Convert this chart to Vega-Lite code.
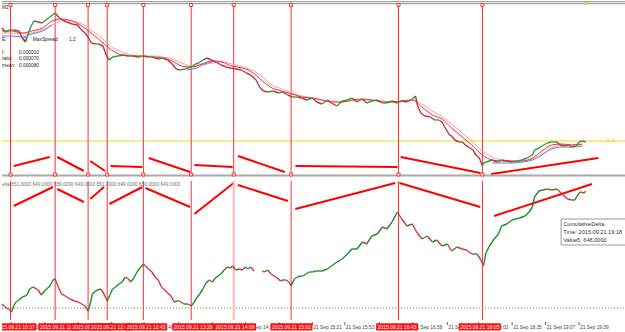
{
"$schema":"https://vega.github.io/schema/vega-lite/v6.json",
"padding":0,"spacing":0,"background":"white",
"config":{"view":{"stroke":null},"text":{"font":"Liberation Sans"}},
"resolve":{"scale":{"x":"independent","y":"independent"}},
"datasets":{
"price":[{"t":"2015-09-21T10:29","c":1.1352},{"t":"2015-09-21T10:32","c":1.1348},{"t":"2015-09-21T10:36","c":1.1350},{"t":"2015-09-21T10:40","c":1.1350},{"t":"2015-09-21T10:45","c":1.1349},{"t":"2015-09-21T10:48","c":1.1342},{"t":"2015-09-21T10:51","c":1.1338},{"t":"2015-09-21T10:53","c":1.1344},{"t":"2015-09-21T10:56","c":1.1353},{"t":"2015-09-21T10:59","c":1.1359},{"t":"2015-09-21T11:03","c":1.1358},{"t":"2015-09-21T11:07","c":1.1357},{"t":"2015-09-21T11:10","c":1.1360},{"t":"2015-09-21T11:14","c":1.1363},{"t":"2015-09-21T11:19","c":1.1367},{"t":"2015-09-21T11:23","c":1.1362},{"t":"2015-09-21T11:26","c":1.1360},{"t":"2015-09-21T11:30","c":1.1358},{"t":"2015-09-21T11:35","c":1.1356},{"t":"2015-09-21T11:40","c":1.1355},{"t":"2015-09-21T11:43","c":1.1351},{"t":"2015-09-21T11:47","c":1.1347},{"t":"2015-09-21T11:50","c":1.1343},{"t":"2015-09-21T11:53","c":1.1337},{"t":"2015-09-21T11:57","c":1.1336},{"t":"2015-09-21T12:00","c":1.1336},{"t":"2015-09-21T12:04","c":1.1334},{"t":"2015-09-21T12:07","c":1.1325},{"t":"2015-09-21T12:10","c":1.1320},{"t":"2015-09-21T12:13","c":1.1323},{"t":"2015-09-21T12:18","c":1.1324},{"t":"2015-09-21T12:23","c":1.1325},{"t":"2015-09-21T12:28","c":1.1324},{"t":"2015-09-21T12:32","c":1.1324},{"t":"2015-09-21T12:37","c":1.1323},{"t":"2015-09-21T12:42","c":1.1324},{"t":"2015-09-21T12:46","c":1.1323},{"t":"2015-09-21T12:51","c":1.1323},{"t":"2015-09-21T12:56","c":1.1321},{"t":"2015-09-21T13:00","c":1.1322},{"t":"2015-09-21T13:05","c":1.1320},{"t":"2015-09-21T13:09","c":1.1316},{"t":"2015-09-21T13:13","c":1.1311},{"t":"2015-09-21T13:16","c":1.1310},{"t":"2015-09-21T13:21","c":1.1311},{"t":"2015-09-21T13:27","c":1.1313},{"t":"2015-09-21T13:31","c":1.1316},{"t":"2015-09-21T13:34","c":1.1317},{"t":"2015-09-21T13:38","c":1.1320},{"t":"2015-09-21T13:42","c":1.1322},{"t":"2015-09-21T13:46","c":1.1320},{"t":"2015-09-21T13:50","c":1.1318},{"t":"2015-09-21T13:55","c":1.1315},{"t":"2015-09-21T14:00","c":1.1313},{"t":"2015-09-21T14:04","c":1.1312},{"t":"2015-09-21T14:09","c":1.1311},{"t":"2015-09-21T14:14","c":1.1310},{"t":"2015-09-21T14:19","c":1.1307},{"t":"2015-09-21T14:23","c":1.1305},{"t":"2015-09-21T14:28","c":1.1300},{"t":"2015-09-21T14:32","c":1.1292},{"t":"2015-09-21T14:35","c":1.1289},{"t":"2015-09-21T14:39","c":1.1288},{"t":"2015-09-21T14:44","c":1.1289},{"t":"2015-09-21T14:49","c":1.1287},{"t":"2015-09-21T14:53","c":1.1288},{"t":"2015-09-21T14:58","c":1.1285},{"t":"2015-09-21T15:02","c":1.1283},{"t":"2015-09-21T15:07","c":1.1283},{"t":"2015-09-21T15:11","c":1.1282},{"t":"2015-09-21T15:16","c":1.1280},{"t":"2015-09-21T15:21","c":1.1282},{"t":"2015-09-21T15:25","c":1.1278},{"t":"2015-09-21T15:30","c":1.1276},{"t":"2015-09-21T15:35","c":1.1280},{"t":"2015-09-21T15:39","c":1.1277},{"t":"2015-09-21T15:44","c":1.1274},{"t":"2015-09-21T15:49","c":1.1279},{"t":"2015-09-21T15:54","c":1.1280},{"t":"2015-09-21T15:58","c":1.1282},{"t":"2015-09-21T16:03","c":1.1278},{"t":"2015-09-21T16:08","c":1.1281},{"t":"2015-09-21T16:12","c":1.1277},{"t":"2015-09-21T16:17","c":1.1279},{"t":"2015-09-21T16:22","c":1.1280},{"t":"2015-09-21T16:27","c":1.1277},{"t":"2015-09-21T16:31","c":1.1277},{"t":"2015-09-21T16:36","c":1.1279},{"t":"2015-09-21T16:41","c":1.1277},{"t":"2015-09-21T16:45","c":1.1279},{"t":"2015-09-21T16:50","c":1.1278},{"t":"2015-09-21T16:55","c":1.1281},{"t":"2015-09-21T16:58","c":1.1284},{"t":"2015-09-21T17:00","c":1.1274},{"t":"2015-09-21T17:03","c":1.1267},{"t":"2015-09-21T17:07","c":1.1264},{"t":"2015-09-21T17:12","c":1.1263},{"t":"2015-09-21T17:16","c":1.1260},{"t":"2015-09-21T17:20","c":1.1260},{"t":"2015-09-21T17:23","c":1.1258},{"t":"2015-09-21T17:26","c":1.1252},{"t":"2015-09-21T17:30","c":1.1245},{"t":"2015-09-21T17:32","c":1.1244},{"t":"2015-09-21T17:35","c":1.1240},{"t":"2015-09-21T17:39","c":1.1238},{"t":"2015-09-21T17:42","c":1.1238},{"t":"2015-09-21T17:46","c":1.1234},{"t":"2015-09-21T17:48","c":1.1233},{"t":"2015-09-21T17:52","c":1.1230},{"t":"2015-09-21T17:55","c":1.1225},{"t":"2015-09-21T17:58","c":1.1222},{"t":"2015-09-21T18:01","c":1.1214},{"t":"2015-09-21T18:02","c":1.1217},{"t":"2015-09-21T18:05","c":1.1218},{"t":"2015-09-21T18:10","c":1.1220},{"t":"2015-09-21T18:15","c":1.1218},{"t":"2015-09-21T18:19","c":1.1220},{"t":"2015-09-21T18:24","c":1.1219},{"t":"2015-09-21T18:29","c":1.1218},{"t":"2015-09-21T18:34","c":1.1219},{"t":"2015-09-21T18:38","c":1.1220},{"t":"2015-09-21T18:43","c":1.1222},{"t":"2015-09-21T18:48","c":1.1225},{"t":"2015-09-21T18:50","c":1.1230},{"t":"2015-09-21T18:54","c":1.1232},{"t":"2015-09-21T18:57","c":1.1234},{"t":"2015-09-21T19:02","c":1.1237},{"t":"2015-09-21T19:06","c":1.1238},{"t":"2015-09-21T19:11","c":1.1238},{"t":"2015-09-21T19:14","c":1.1235},{"t":"2015-09-21T19:18","c":1.1234},{"t":"2015-09-21T19:22","c":1.1235},{"t":"2015-09-21T19:25","c":1.1233},{"t":"2015-09-21T19:29","c":1.1234},{"t":"2015-09-21T19:32","c":1.1238},{"t":"2015-09-21T19:35","c":1.1239},{"t":"2015-09-21T19:38","c":1.1238}],
"ma":[{"t":"2015-09-21T10:29","a":1.1349,"b":1.1347},{"t":"2015-09-21T10:38","a":1.1349,"b":1.1347},{"t":"2015-09-21T10:48","a":1.1347,"b":1.1346},{"t":"2015-09-21T10:57","a":1.1349,"b":1.1347},{"t":"2015-09-21T11:07","a":1.1352,"b":1.1350},{"t":"2015-09-21T11:16","a":1.1359,"b":1.1355},{"t":"2015-09-21T11:25","a":1.1361,"b":1.1359},{"t":"2015-09-21T11:35","a":1.1359,"b":1.1359},{"t":"2015-09-21T11:44","a":1.1354,"b":1.1356},{"t":"2015-09-21T11:54","a":1.1346,"b":1.1349},{"t":"2015-09-21T12:03","a":1.1338,"b":1.1342},{"t":"2015-09-21T12:12","a":1.1330,"b":1.1333},{"t":"2015-09-21T12:22","a":1.1325,"b":1.1328},{"t":"2015-09-21T12:31","a":1.1324,"b":1.1325},{"t":"2015-09-21T12:41","a":1.1324,"b":1.1324},{"t":"2015-09-21T12:50","a":1.1323,"b":1.1324},{"t":"2015-09-21T13:00","a":1.1322,"b":1.1323},{"t":"2015-09-21T13:09","a":1.1319,"b":1.1321},{"t":"2015-09-21T13:18","a":1.1314,"b":1.1317},{"t":"2015-09-21T13:28","a":1.1313,"b":1.1314},{"t":"2015-09-21T13:37","a":1.1316,"b":1.1315},{"t":"2015-09-21T13:47","a":1.1319,"b":1.1317},{"t":"2015-09-21T13:56","a":1.1318,"b":1.1318},{"t":"2015-09-21T14:05","a":1.1314,"b":1.1316},{"t":"2015-09-21T14:15","a":1.1312,"b":1.1313},{"t":"2015-09-21T14:24","a":1.1308,"b":1.1310},{"t":"2015-09-21T14:34","a":1.1299,"b":1.1303},{"t":"2015-09-21T14:43","a":1.1292,"b":1.1295},{"t":"2015-09-21T14:52","a":1.1289,"b":1.1291},{"t":"2015-09-21T15:02","a":1.1286,"b":1.1287},{"t":"2015-09-21T15:11","a":1.1283,"b":1.1284},{"t":"2015-09-21T15:21","a":1.1282,"b":1.1282},{"t":"2015-09-21T15:30","a":1.1280,"b":1.1280},{"t":"2015-09-21T15:39","a":1.1278,"b":1.1279},{"t":"2015-09-21T15:49","a":1.1278,"b":1.1278},{"t":"2015-09-21T15:58","a":1.1280,"b":1.1279},{"t":"2015-09-21T16:08","a":1.1281,"b":1.1280},{"t":"2015-09-21T16:17","a":1.1280,"b":1.1280},{"t":"2015-09-21T16:27","a":1.1278,"b":1.1279},{"t":"2015-09-21T16:36","a":1.1278,"b":1.1278},{"t":"2015-09-21T16:45","a":1.1279,"b":1.1279},{"t":"2015-09-21T16:55","a":1.1280,"b":1.1280},{"t":"2015-09-21T17:04","a":1.1273,"b":1.1276},{"t":"2015-09-21T17:14","a":1.1265,"b":1.1269},{"t":"2015-09-21T17:23","a":1.1261,"b":1.1263},{"t":"2015-09-21T17:32","a":1.1252,"b":1.1256},{"t":"2015-09-21T17:42","a":1.1243,"b":1.1247},{"t":"2015-09-21T17:51","a":1.1235,"b":1.1239},{"t":"2015-09-21T18:01","a":1.1225,"b":1.1229},{"t":"2015-09-21T18:10","a":1.1220,"b":1.1223},{"t":"2015-09-21T18:19","a":1.1219,"b":1.1220},{"t":"2015-09-21T18:29","a":1.1219,"b":1.1219},{"t":"2015-09-21T18:38","a":1.1219,"b":1.1219},{"t":"2015-09-21T18:48","a":1.1222,"b":1.1221},{"t":"2015-09-21T18:57","a":1.1229,"b":1.1226},{"t":"2015-09-21T19:06","a":1.1235,"b":1.1232},{"t":"2015-09-21T19:16","a":1.1236,"b":1.1235},{"t":"2015-09-21T19:25","a":1.1235,"b":1.1235},{"t":"2015-09-21T19:35","a":1.1236,"b":1.1235}],
"blue":[{"t":"2015-09-21T10:29","p":1.1344,"seg":1},{"t":"2015-09-21T10:38","p":1.1344,"seg":1},{"t":"2015-09-21T10:48","p":1.1343,"seg":1},{"t":"2015-09-21T10:57","p":1.1346,"seg":1},{"t":"2015-09-21T11:07","p":1.1349,"seg":1},{"t":"2015-09-21T11:16","p":1.1355,"seg":1},{"t":"2015-09-21T13:23","p":1.1310,"seg":2},{"t":"2015-09-21T13:32","p":1.1312,"seg":2},{"t":"2015-09-21T13:42","p":1.1317,"seg":2},{"t":"2015-09-21T13:47","p":1.1318,"seg":2},{"t":"2015-09-21T18:10","p":1.1217,"seg":3},{"t":"2015-09-21T18:19","p":1.1217,"seg":3},{"t":"2015-09-21T18:29","p":1.1217,"seg":3},{"t":"2015-09-21T18:38","p":1.1218,"seg":3},{"t":"2015-09-21T18:48","p":1.1220,"seg":3},{"t":"2015-09-21T18:57","p":1.1225,"seg":3},{"t":"2015-09-21T19:06","p":1.1231,"seg":3},{"t":"2015-09-21T19:16","p":1.1233,"seg":3},{"t":"2015-09-21T19:25","p":1.1233,"seg":3},{"t":"2015-09-21T19:35","p":1.1234,"seg":3}],
"delta":[{"t":"2015-09-21T10:29","v":541},{"t":"2015-09-21T10:32","v":538},{"t":"2015-09-21T10:36","v":535},{"t":"2015-09-21T10:38","v":533},{"t":"2015-09-21T10:40","v":539},{"t":"2015-09-21T10:42","v":543},{"t":"2015-09-21T10:45","v":545},{"t":"2015-09-21T10:48","v":548},{"t":"2015-09-21T10:51","v":549},{"t":"2015-09-21T10:53","v":551},{"t":"2015-09-21T10:55","v":556},{"t":"2015-09-21T10:58","v":558},{"t":"2015-09-21T11:00","v":557},{"t":"2015-09-21T11:03","v":555},{"t":"2015-09-21T11:06","v":550},{"t":"2015-09-21T11:09","v":554},{"t":"2015-09-21T11:11","v":556},{"t":"2015-09-21T11:14","v":559},{"t":"2015-09-21T11:17","v":565},{"t":"2015-09-21T11:19","v":566},{"t":"2015-09-21T11:22","v":558},{"t":"2015-09-21T11:25","v":551},{"t":"2015-09-21T11:27","v":550},{"t":"2015-09-21T11:30","v":548},{"t":"2015-09-21T11:33","v":546},{"t":"2015-09-21T11:37","v":544},{"t":"2015-09-21T11:41","v":543},{"t":"2015-09-21T11:44","v":541},{"t":"2015-09-21T11:47","v":539},{"t":"2015-09-21T11:50","v":534},{"t":"2015-09-21T11:52","v":541},{"t":"2015-09-21T11:54","v":551},{"t":"2015-09-21T11:57","v":554},{"t":"2015-09-21T11:59","v":555},{"t":"2015-09-21T12:02","v":556},{"t":"2015-09-21T12:05","v":551},{"t":"2015-09-21T12:08","v":544},{"t":"2015-09-21T12:11","v":551},{"t":"2015-09-21T12:13","v":556},{"t":"2015-09-21T12:16","v":558},{"t":"2015-09-21T12:19","v":561},{"t":"2015-09-21T12:22","v":563},{"t":"2015-09-21T12:25","v":568},{"t":"2015-09-21T12:28","v":566},{"t":"2015-09-21T12:30","v":563},{"t":"2015-09-21T12:33","v":567},{"t":"2015-09-21T12:36","v":573},{"t":"2015-09-21T12:39","v":577},{"t":"2015-09-21T12:42","v":581},{"t":"2015-09-21T12:44","v":579},{"t":"2015-09-21T12:47","v":576},{"t":"2015-09-21T12:50","v":573},{"t":"2015-09-21T12:53","v":568},{"t":"2015-09-21T12:56","v":565},{"t":"2015-09-21T12:59","v":558},{"t":"2015-09-21T13:01","v":556},{"t":"2015-09-21T13:04","v":553},{"t":"2015-09-21T13:08","v":549},{"t":"2015-09-21T13:11","v":543},{"t":"2015-09-21T13:14","v":544},{"t":"2015-09-21T13:16","v":544},{"t":"2015-09-21T13:20","v":541},{"t":"2015-09-21T13:24","v":541},{"t":"2015-09-21T13:27","v":539},{"t":"2015-09-21T13:30","v":543},{"t":"2015-09-21T13:32","v":547},{"t":"2015-09-21T13:35","v":551},{"t":"2015-09-21T13:38","v":556},{"t":"2015-09-21T13:41","v":562},{"t":"2015-09-21T13:44","v":565},{"t":"2015-09-21T13:47","v":563},{"t":"2015-09-21T13:49","v":566},{"t":"2015-09-21T13:52","v":569},{"t":"2015-09-21T13:55","v":571},{"t":"2015-09-21T13:58","v":575},{"t":"2015-09-21T14:01","v":578},{"t":"2015-09-21T14:04","v":577},{"t":"2015-09-21T14:06","v":579},{"t":"2015-09-21T14:09","v":575},{"t":"2015-09-21T14:12","v":576},{"t":"2015-09-21T14:15","v":575},{"t":"2015-09-21T14:18","v":578},{"t":"2015-09-21T14:20","v":576},{"t":"2015-09-21T14:23","v":578},{"t":"2015-09-21T14:26","v":574},{"t":"2015-09-21T14:34","v":574},{"t":"2015-09-21T14:36","v":573},{"t":"2015-09-21T14:39","v":575},{"t":"2015-09-21T14:42","v":571},{"t":"2015-09-21T14:45","v":569},{"t":"2015-09-21T14:48","v":567},{"t":"2015-09-21T14:51","v":564},{"t":"2015-09-21T14:53","v":565},{"t":"2015-09-21T14:56","v":565},{"t":"2015-09-21T14:59","v":563},{"t":"2015-09-21T15:01","v":559},{"t":"2015-09-21T15:04","v":566},{"t":"2015-09-21T15:07","v":568},{"t":"2015-09-21T15:09","v":569},{"t":"2015-09-21T15:12","v":569},{"t":"2015-09-21T15:15","v":571},{"t":"2015-09-21T15:18","v":573},{"t":"2015-09-21T15:21","v":573},{"t":"2015-09-21T15:24","v":574},{"t":"2015-09-21T15:30","v":574},{"t":"2015-09-21T15:35","v":576},{"t":"2015-09-21T15:39","v":579},{"t":"2015-09-21T15:44","v":583},{"t":"2015-09-21T15:49","v":586},{"t":"2015-09-21T15:54","v":591},{"t":"2015-09-21T15:58","v":596},{"t":"2015-09-21T16:03","v":596},{"t":"2015-09-21T16:08","v":603},{"t":"2015-09-21T16:12","v":601},{"t":"2015-09-21T16:17","v":609},{"t":"2015-09-21T16:22","v":611},{"t":"2015-09-21T16:27","v":618},{"t":"2015-09-21T16:31","v":616},{"t":"2015-09-21T16:36","v":623},{"t":"2015-09-21T16:41","v":633},{"t":"2015-09-21T16:45","v":626},{"t":"2015-09-21T16:50","v":619},{"t":"2015-09-21T16:55","v":621},{"t":"2015-09-21T16:59","v":613},{"t":"2015-09-21T17:04","v":606},{"t":"2015-09-21T17:09","v":609},{"t":"2015-09-21T17:14","v":603},{"t":"2015-09-21T17:18","v":605},{"t":"2015-09-21T17:23","v":599},{"t":"2015-09-21T17:28","v":601},{"t":"2015-09-21T17:32","v":594},{"t":"2015-09-21T17:37","v":598},{"t":"2015-09-21T17:42","v":596},{"t":"2015-09-21T17:46","v":595},{"t":"2015-09-21T17:51","v":591},{"t":"2015-09-21T17:56","v":591},{"t":"2015-09-21T17:59","v":586},{"t":"2015-09-21T18:02","v":579},{"t":"2015-09-21T18:04","v":591},{"t":"2015-09-21T18:07","v":598},{"t":"2015-09-21T18:12","v":606},{"t":"2015-09-21T18:16","v":611},{"t":"2015-09-21T18:19","v":619},{"t":"2015-09-21T18:24","v":621},{"t":"2015-09-21T18:29","v":625},{"t":"2015-09-21T18:32","v":626},{"t":"2015-09-21T18:36","v":627},{"t":"2015-09-21T18:41","v":629},{"t":"2015-09-21T18:45","v":633},{"t":"2015-09-21T18:48","v":638},{"t":"2015-09-21T18:50","v":648},{"t":"2015-09-21T18:54","v":654},{"t":"2015-09-21T18:58","v":655},{"t":"2015-09-21T19:02","v":656},{"t":"2015-09-21T19:06","v":655},{"t":"2015-09-21T19:11","v":656},{"t":"2015-09-21T19:13","v":654},{"t":"2015-09-21T19:16","v":651},{"t":"2015-09-21T19:19","v":648},{"t":"2015-09-21T19:21","v":646},{"t":"2015-09-21T19:25","v":645},{"t":"2015-09-21T19:28","v":645},{"t":"2015-09-21T19:30","v":649},{"t":"2015-09-21T19:33","v":653},{"t":"2015-09-21T19:37","v":652},{"t":"2015-09-21T19:38","v":654}],
"vlines":[{"t":"2015-09-21T10:37","tag":"2015.09.21 10:37"},{"t":"2015-09-21T11:19","tag":"2015.09.21 11:19"},{"t":"2015-09-21T11:50","tag":"2015.09.21 11:50"},{"t":"2015-09-21T12:08","tag":"2015.09.21 12:08"},{"t":"2015-09-21T12:42","tag":"2015.09.21 12:43"},{"t":"2015-09-21T13:27","tag":"2015.09.21 13:28"},{"t":"2015-09-21T14:07","tag":"2015.09.21 14:09","sel":true},{"t":"2015-09-21T15:01","tag":"2015.09.21 15:02"},{"t":"2015-09-21T16:42","tag":"2015.09.21 16:43"},{"t":"2015-09-21T18:01","tag":"2015.09.21 18:05"}],
"divA":[{"t1":"2015-09-21T10:40","p1":1.1214,"t2":"2015-09-21T11:14","p2":1.1223},{"t1":"2015-09-21T11:21","p1":1.1223,"t2":"2015-09-21T11:46","p2":1.1209},{"t1":"2015-09-21T11:52","p1":1.1219,"t2":"2015-09-21T12:06","p2":1.1209},{"t1":"2015-09-21T12:11","p1":1.1214,"t2":"2015-09-21T12:41","p2":1.1213},{"t1":"2015-09-21T12:47","p1":1.1222,"t2":"2015-09-21T13:26","p2":1.1208},{"t1":"2015-09-21T13:30","p1":1.1215,"t2":"2015-09-21T14:06","p2":1.1213},{"t1":"2015-09-21T14:11","p1":1.1224,"t2":"2015-09-21T14:55","p2":1.1208},{"t1":"2015-09-21T15:05","p1":1.1214,"t2":"2015-09-21T16:41","p2":1.1213},{"t1":"2015-09-21T16:44","p1":1.1223,"t2":"2015-09-21T17:59","p2":1.1207},{"t1":"2015-09-21T18:09","p1":1.1206,"t2":"2015-09-21T19:50","p2":1.1222}],
"divB":[{"t1":"2015-09-21T10:40","v1":639,"t2":"2015-09-21T11:17","v2":658},{"t1":"2015-09-21T11:21","v1":656,"t2":"2015-09-21T11:46","v2":643},{"t1":"2015-09-21T11:52","v1":646,"t2":"2015-09-21T12:05","v2":658},{"t1":"2015-09-21T12:10","v1":641,"t2":"2015-09-21T12:41","v2":658},{"t1":"2015-09-21T12:44","v1":657,"t2":"2015-09-21T13:26","v2":638},{"t1":"2015-09-21T13:30","v1":631,"t2":"2015-09-21T14:07","v2":662},{"t1":"2015-09-21T14:11","v1":660,"t2":"2015-09-21T14:58","v2":644},{"t1":"2015-09-21T15:05","v1":636,"t2":"2015-09-21T16:39","v2":662},{"t1":"2015-09-21T16:43","v1":662,"t2":"2015-09-21T17:59","v2":638},{"t1":"2015-09-21T18:12","v1":629,"t2":"2015-09-21T19:44","v2":661}],
"infoA":[{"t":"2015-09-21T10:29","p":1.1372,"text":"M1"},{"t":"2015-09-21T10:29","p":1.1340,"text":"E:"},{"t":"2015-09-21T10:49","p":1.1340,"text":"0;"},{"t":"2015-09-21T10:58","p":1.1340,"text":"MaxSpread:"},{"t":"2015-09-21T11:32","p":1.1340,"text":"1.2"},{"t":"2015-09-21T10:29","p":1.1327,"text":"t:"},{"t":"2015-09-21T10:45","p":1.1327,"text":"0.000010"},{"t":"2015-09-21T10:29","p":1.1321,"text":"ratio:"},{"t":"2015-09-21T10:45","p":1.1321,"text":"0.000070"},{"t":"2015-09-21T10:29","p":1.1314,"text":"mean:"},{"t":"2015-09-21T10:45","p":1.1314,"text":"0.000080"}],
"axticks":[{"t":"2015-09-21T10:33","label":"21 Sep 10:33"},{"t":"2015-09-21T11:05","label":"21 Sep 11:05"},{"t":"2015-09-21T11:37","label":"21 Sep 11:37"},{"t":"2015-09-21T12:09","label":"21 Sep 12:08"},{"t":"2015-09-21T12:40","label":"21 Sep 12:40"},{"t":"2015-09-21T13:13","label":"21 Sep 13:12"},{"t":"2015-09-21T13:45","label":"21 Sep 13:44"},{"t":"2015-09-21T14:17","label":"21 Sep 14:17"},{"t":"2015-09-21T14:49","label":"21 Sep 14:49"},{"t":"2015-09-21T15:21","label":"21 Sep 15:21"},{"t":"2015-09-21T15:52","label":"21 Sep 15:53"},{"t":"2015-09-21T16:25","label":"21 Sep 16:25"},{"t":"2015-09-21T16:57","label":"21 Sep 16:58"},{"t":"2015-09-21T17:30","label":"21 Sep 17:30"},{"t":"2015-09-21T18:00","label":"21 Sep 18:03"},{"t":"2015-09-21T18:32","label":"21 Sep 18:35"},{"t":"2015-09-21T19:04","label":"21 Sep 19:07"},{"t":"2015-09-21T19:36","label":"21 Sep 19:39"}],
"tabs":[{"idx":0,"name":"EURUSD,M15"},{"idx":1,"name":"XAUUSD,M1"},{"idx":2,"name":"EURUSD,M1","active":true},{"idx":3,"name":"EURUSD,M5"}]
},
"vconcat":[
{"width":625,"height":176,
"layer":[
{"data":{"values":[{}]},"mark":{"type":"rule","color":"#8c8c8c","strokeWidth":1},"encoding":{"y":{"datum":1.13783,"type":"quantitative","scale":{"domain":[1.1204,1.138],"nice":false,"zero":false},"axis":null}}},
{"data":{"values":[{}]},"mark":{"type":"rule","color":"#8c8c8c","strokeWidth":1},"encoding":{"y":{"datum":1.13763,"type":"quantitative"}}},
{"data":{"values":[{}]},"mark":{"type":"rule","color":"#f3d523","strokeWidth":1},"encoding":{"y":{"datum":1.1239,"type":"quantitative"}}},
{"data":{"name":"divA"},"mark":{"type":"rule","color":"#ff0000","strokeWidth":2},"encoding":{"x":{"field":"t1","type":"temporal","scale":{"domain":[{"year":2015,"month":9,"date":21,"hours":10,"minutes":29},{"year":2015,"month":9,"date":21,"hours":20,"minutes":17}],"nice":false},"axis":null},"x2":{"field":"t2"},"y":{"field":"p1","type":"quantitative"},"y2":{"field":"p2"}}},
{"data":{"name":"vlines"},"mark":{"type":"rule","color":"#ff3030","strokeWidth":1},"encoding":{"x":{"field":"t","type":"temporal","scale":{"domain":[{"year":2015,"month":9,"date":21,"hours":10,"minutes":29},{"year":2015,"month":9,"date":21,"hours":20,"minutes":17}],"nice":false},"axis":null},"y":{"datum":1.1376,"type":"quantitative"},"y2":{"datum":1.1205}}},
{"data":{"name":"ma"},"mark":{"type":"line","color":"#ff9a9a","strokeWidth":1,"interpolate":"monotone"},"encoding":{"x":{"field":"t","type":"temporal","scale":{"domain":[{"year":2015,"month":9,"date":21,"hours":10,"minutes":29},{"year":2015,"month":9,"date":21,"hours":20,"minutes":17}],"nice":false},"axis":null},"y":{"field":"b","type":"quantitative"}}},
{"data":{"name":"ma"},"mark":{"type":"line","color":"#ff2a2a","strokeWidth":1,"interpolate":"monotone"},"encoding":{"x":{"field":"t","type":"temporal","scale":{"domain":[{"year":2015,"month":9,"date":21,"hours":10,"minutes":29},{"year":2015,"month":9,"date":21,"hours":20,"minutes":17}],"nice":false},"axis":null},"y":{"field":"a","type":"quantitative"}}},
{"data":{"name":"blue"},"mark":{"type":"line","color":"#5b7cf2","strokeWidth":1,"interpolate":"monotone"},"encoding":{"x":{"field":"t","type":"temporal","scale":{"domain":[{"year":2015,"month":9,"date":21,"hours":10,"minutes":29},{"year":2015,"month":9,"date":21,"hours":20,"minutes":17}],"nice":false},"axis":null},"y":{"field":"p","type":"quantitative"},"detail":{"field":"seg"}}},
{"data":{"name":"price"},"transform":[{"window":[{"op":"lag","field":"c","as":"o"},{"op":"lag","field":"t","as":"t0"}],"sort":[{"field":"t"}]},{"filter":"datum.o != null"}],"mark":{"type":"rule","strokeWidth":1.4},"encoding":{"x":{"field":"t0","type":"temporal","scale":{"domain":[{"year":2015,"month":9,"date":21,"hours":10,"minutes":29},{"year":2015,"month":9,"date":21,"hours":20,"minutes":17}],"nice":false},"axis":null},"x2":{"field":"t"},"y":{"field":"o","type":"quantitative"},"y2":{"field":"c"},"color":{"condition":{"test":"datum.c >= datum.o","value":"#2f9e3a"},"value":"#b5394d"}}},
{"data":{"values":[{}]},"mark":{"type":"rule","color":"#a9a9a9","strokeWidth":2},"encoding":{"y":{"datum":1.12045,"type":"quantitative"}}},
{"data":{"name":"vlines"},"mark":{"type":"point","shape":"square","size":9,"fill":"white","stroke":"#ff3030","strokeWidth":1,"opacity":1},"encoding":{"x":{"field":"t","type":"temporal","scale":{"domain":[{"year":2015,"month":9,"date":21,"hours":10,"minutes":29},{"year":2015,"month":9,"date":21,"hours":20,"minutes":17}],"nice":false},"axis":null},"y":{"datum":1.1375,"type":"quantitative"}}},
{"data":{"name":"vlines"},"mark":{"type":"point","shape":"square","size":9,"fill":"white","stroke":"#ff3030","strokeWidth":1,"opacity":1},"encoding":{"x":{"field":"t","type":"temporal","scale":{"domain":[{"year":2015,"month":9,"date":21,"hours":10,"minutes":29},{"year":2015,"month":9,"date":21,"hours":20,"minutes":17}],"nice":false},"axis":null},"y":{"datum":1.12055,"type":"quantitative"}}},
{"data":{"name":"infoA"},"mark":{"type":"text","align":"left","baseline":"middle","fontSize":4.8,"color":"#222222","clip":true},"encoding":{"x":{"field":"t","type":"temporal","scale":{"domain":[{"year":2015,"month":9,"date":21,"hours":10,"minutes":29},{"year":2015,"month":9,"date":21,"hours":20,"minutes":17}],"nice":false},"axis":null},"y":{"field":"p","type":"quantitative"},"text":{"field":"text"}}},
{"data":{"values":[{"t":"2015-09-21T19:51","p":1.1239,"text":"<  0.4"}]},"mark":{"type":"text","align":"left","baseline":"middle","fontSize":7,"color":"#f0dc3c","clip":true},"encoding":{"x":{"field":"t","type":"temporal","scale":{"domain":[{"year":2015,"month":9,"date":21,"hours":10,"minutes":29},{"year":2015,"month":9,"date":21,"hours":20,"minutes":17}],"nice":false},"axis":null},"y":{"field":"p","type":"quantitative"},"text":{"field":"text"}}},
{"data":{"values":[{"t":"2015-09-21T19:38","p":1.1376}]},"mark":{"type":"point","shape":"triangle-down","size":14,"filled":true,"color":"#e6c400","opacity":1},"encoding":{"x":{"field":"t","type":"temporal","scale":{"domain":[{"year":2015,"month":9,"date":21,"hours":10,"minutes":29},{"year":2015,"month":9,"date":21,"hours":20,"minutes":17}],"nice":false},"axis":null},"y":{"field":"p","type":"quantitative"}}}
]},
{"width":625,"height":140,
"layer":[
{"data":{"values":[{}]},"mark":{"type":"rule","color":"#3a9a3a","strokeWidth":1,"strokeDash":[1,2]},"encoding":{"y":{"datum":537,"type":"quantitative","scale":{"domain":[525,665],"nice":false,"zero":false},"axis":null}}},
{"data":{"name":"divB"},"mark":{"type":"rule","color":"#ff0000","strokeWidth":2},"encoding":{"x":{"field":"t1","type":"temporal","scale":{"domain":[{"year":2015,"month":9,"date":21,"hours":10,"minutes":29},{"year":2015,"month":9,"date":21,"hours":20,"minutes":17}],"nice":false},"axis":null},"x2":{"field":"t2"},"y":{"field":"v1","type":"quantitative"},"y2":{"field":"v2"}}},
{"data":{"name":"vlines"},"mark":{"type":"rule"},"encoding":{"x":{"field":"t","type":"temporal","scale":{"domain":[{"year":2015,"month":9,"date":21,"hours":10,"minutes":29},{"year":2015,"month":9,"date":21,"hours":20,"minutes":17}],"nice":false},"axis":null},"y":{"datum":664,"type":"quantitative"},"y2":{"datum":525},"color":{"condition":{"test":"datum.sel","value":"#ffb4b4"},"value":"#ff3030"},"strokeWidth":{"condition":{"test":"datum.sel","value":2},"value":1}}},
{"data":{"name":"delta"},"transform":[{"window":[{"op":"lag","field":"v","as":"o"},{"op":"lag","field":"t","as":"t0"}],"sort":[{"field":"t"}]},{"filter":"datum.o != null && (datum.t - datum.t0) < 420000"}],"mark":{"type":"rule","strokeWidth":1.4},"encoding":{"x":{"field":"t0","type":"temporal","scale":{"domain":[{"year":2015,"month":9,"date":21,"hours":10,"minutes":29},{"year":2015,"month":9,"date":21,"hours":20,"minutes":17}],"nice":false},"axis":null},"x2":{"field":"t"},"y":{"field":"o","type":"quantitative"},"y2":{"field":"v"},"color":{"condition":{"test":"datum.v >= datum.o","value":"#1f8f2a"},"value":"#d8344c"}}},
{"data":{"values":[{"t":"2015-09-21T10:29","v":660,"text":"elta 651.0000 649.0000 656.0000 649.0000 651.0000 649.0000 650.0000 649.0000"}]},"mark":{"type":"text","align":"left","baseline":"middle","fontSize":4.8,"color":"#707070","clip":true},"encoding":{"x":{"field":"t","type":"temporal","scale":{"domain":[{"year":2015,"month":9,"date":21,"hours":10,"minutes":29},{"year":2015,"month":9,"date":21,"hours":20,"minutes":17}],"nice":false},"axis":null},"y":{"field":"v","type":"quantitative"},"text":{"field":"text"}}},
{"data":{"values":[{"t1":"2015-09-21T19:15","t2":"2015-09-21T20:20","v1":626,"v2":600}]},"mark":{"type":"rect","fill":"#ffffff","stroke":"#9a9a9a","strokeWidth":1,"clip":true},"encoding":{"x":{"field":"t1","type":"temporal","scale":{"domain":[{"year":2015,"month":9,"date":21,"hours":10,"minutes":29},{"year":2015,"month":9,"date":21,"hours":20,"minutes":17}],"nice":false},"axis":null},"x2":{"field":"t2"},"y":{"field":"v1","type":"quantitative"},"y2":{"field":"v2"}}},
{"data":{"values":[{"t":"2015-09-21T19:17","v":621,"text":"CumulativeDelta"},{"t":"2015-09-21T19:17","v":613,"text":"Time: 2015.09.21 19:18"},{"t":"2015-09-21T19:17","v":605,"text":"Value5: 648.0000"}]},"mark":{"type":"text","align":"left","baseline":"middle","fontSize":5.6,"color":"#333333","clip":true},"encoding":{"x":{"field":"t","type":"temporal","scale":{"domain":[{"year":2015,"month":9,"date":21,"hours":10,"minutes":29},{"year":2015,"month":9,"date":21,"hours":20,"minutes":17}],"nice":false},"axis":null},"y":{"field":"v","type":"quantitative"},"text":{"field":"text"}}}
]},
{"width":625,"height":10,
"layer":[
{"data":{"name":"axticks"},"mark":{"type":"rule","color":"#666666","strokeWidth":1},"encoding":{"x":{"field":"t","type":"temporal","scale":{"domain":[{"year":2015,"month":9,"date":21,"hours":10,"minutes":29},{"year":2015,"month":9,"date":21,"hours":20,"minutes":17}],"nice":false},"axis":null},"y":{"datum":1,"type":"quantitative","scale":{"domain":[0,1],"nice":false},"axis":null},"y2":{"datum":0.7}}},
{"data":{"name":"axticks"},"mark":{"type":"text","align":"left","baseline":"middle","dx":1,"fontSize":4.8,"color":"#444444","clip":true},"encoding":{"x":{"field":"t","type":"temporal","scale":{"domain":[{"year":2015,"month":9,"date":21,"hours":10,"minutes":29},{"year":2015,"month":9,"date":21,"hours":20,"minutes":17}],"nice":false},"axis":null},"y":{"datum":0.45,"type":"quantitative"},"text":{"field":"label"}}},
{"data":{"name":"vlines"},"transform":[{"filter":"indexof(['10:37','13:27'], timeFormat(datum.t, '%H:%M')) >= 0"}],"mark":{"type":"bar","width":42,"color":"#ff1010","clip":true},"encoding":{"x":{"field":"t","type":"temporal","scale":{"domain":[{"year":2015,"month":9,"date":21,"hours":10,"minutes":29},{"year":2015,"month":9,"date":21,"hours":20,"minutes":17}],"nice":false},"axis":null},"y":{"datum":0.15,"type":"quantitative"},"y2":{"datum":0.88}}},
{"data":{"name":"vlines"},"transform":[{"filter":"indexof(['10:37','13:27'], timeFormat(datum.t, '%H:%M')) >= 0"}],"mark":{"type":"text","align":"center","baseline":"middle","fontSize":5,"color":"#ffffff","clip":true},"encoding":{"x":{"field":"t","type":"temporal","scale":{"domain":[{"year":2015,"month":9,"date":21,"hours":10,"minutes":29},{"year":2015,"month":9,"date":21,"hours":20,"minutes":17}],"nice":false},"axis":null},"y":{"datum":0.5,"type":"quantitative"},"text":{"field":"tag"}}},
{"data":{"name":"vlines"},"transform":[{"filter":"indexof(['11:19','14:07'], timeFormat(datum.t, '%H:%M')) >= 0"}],"mark":{"type":"bar","width":42,"color":"#ff1010","clip":true},"encoding":{"x":{"field":"t","type":"temporal","scale":{"domain":[{"year":2015,"month":9,"date":21,"hours":10,"minutes":29},{"year":2015,"month":9,"date":21,"hours":20,"minutes":17}],"nice":false},"axis":null},"y":{"datum":0.15,"type":"quantitative"},"y2":{"datum":0.88}}},
{"data":{"name":"vlines"},"transform":[{"filter":"indexof(['11:19','14:07'], timeFormat(datum.t, '%H:%M')) >= 0"}],"mark":{"type":"text","align":"center","baseline":"middle","fontSize":5,"color":"#ffffff","clip":true},"encoding":{"x":{"field":"t","type":"temporal","scale":{"domain":[{"year":2015,"month":9,"date":21,"hours":10,"minutes":29},{"year":2015,"month":9,"date":21,"hours":20,"minutes":17}],"nice":false},"axis":null},"y":{"datum":0.5,"type":"quantitative"},"text":{"field":"tag"}}},
{"data":{"name":"vlines"},"transform":[{"filter":"indexof(['11:50','15:01'], timeFormat(datum.t, '%H:%M')) >= 0"}],"mark":{"type":"bar","width":42,"color":"#ff1010","clip":true},"encoding":{"x":{"field":"t","type":"temporal","scale":{"domain":[{"year":2015,"month":9,"date":21,"hours":10,"minutes":29},{"year":2015,"month":9,"date":21,"hours":20,"minutes":17}],"nice":false},"axis":null},"y":{"datum":0.15,"type":"quantitative"},"y2":{"datum":0.88}}},
{"data":{"name":"vlines"},"transform":[{"filter":"indexof(['11:50','15:01'], timeFormat(datum.t, '%H:%M')) >= 0"}],"mark":{"type":"text","align":"center","baseline":"middle","fontSize":5,"color":"#ffffff","clip":true},"encoding":{"x":{"field":"t","type":"temporal","scale":{"domain":[{"year":2015,"month":9,"date":21,"hours":10,"minutes":29},{"year":2015,"month":9,"date":21,"hours":20,"minutes":17}],"nice":false},"axis":null},"y":{"datum":0.5,"type":"quantitative"},"text":{"field":"tag"}}},
{"data":{"name":"vlines"},"transform":[{"filter":"indexof(['12:08','16:42'], timeFormat(datum.t, '%H:%M')) >= 0"}],"mark":{"type":"bar","width":42,"color":"#ff1010","clip":true},"encoding":{"x":{"field":"t","type":"temporal","scale":{"domain":[{"year":2015,"month":9,"date":21,"hours":10,"minutes":29},{"year":2015,"month":9,"date":21,"hours":20,"minutes":17}],"nice":false},"axis":null},"y":{"datum":0.15,"type":"quantitative"},"y2":{"datum":0.88}}},
{"data":{"name":"vlines"},"transform":[{"filter":"indexof(['12:08','16:42'], timeFormat(datum.t, '%H:%M')) >= 0"}],"mark":{"type":"text","align":"center","baseline":"middle","fontSize":5,"color":"#ffffff","clip":true},"encoding":{"x":{"field":"t","type":"temporal","scale":{"domain":[{"year":2015,"month":9,"date":21,"hours":10,"minutes":29},{"year":2015,"month":9,"date":21,"hours":20,"minutes":17}],"nice":false},"axis":null},"y":{"datum":0.5,"type":"quantitative"},"text":{"field":"tag"}}},
{"data":{"name":"vlines"},"transform":[{"filter":"indexof(['12:42','18:01'], timeFormat(datum.t, '%H:%M')) >= 0"}],"mark":{"type":"bar","width":42,"color":"#ff1010","clip":true},"encoding":{"x":{"field":"t","type":"temporal","scale":{"domain":[{"year":2015,"month":9,"date":21,"hours":10,"minutes":29},{"year":2015,"month":9,"date":21,"hours":20,"minutes":17}],"nice":false},"axis":null},"y":{"datum":0.15,"type":"quantitative"},"y2":{"datum":0.88}}},
{"data":{"name":"vlines"},"transform":[{"filter":"indexof(['12:42','18:01'], timeFormat(datum.t, '%H:%M')) >= 0"}],"mark":{"type":"text","align":"center","baseline":"middle","fontSize":5,"color":"#ffffff","clip":true},"encoding":{"x":{"field":"t","type":"temporal","scale":{"domain":[{"year":2015,"month":9,"date":21,"hours":10,"minutes":29},{"year":2015,"month":9,"date":21,"hours":20,"minutes":17}],"nice":false},"axis":null},"y":{"datum":0.5,"type":"quantitative"},"text":{"field":"tag"}}}
]},
{"width":625,"height":6,
"layer":[
{"data":{"values":[{}]},"mark":{"type":"rule","color":"#808080","strokeWidth":1},"encoding":{"y":{"datum":0.92,"type":"quantitative","scale":{"domain":[0,1],"nice":false},"axis":null}}},
{"data":{"name":"tabs"},"mark":{"type":"bar","width":43,"stroke":"#9a9a9a","strokeWidth":1,"clip":true},"encoding":{"x":{"field":"idx","type":"quantitative","scale":{"domain":[0.1744,14.709],"nice":false,"zero":false},"axis":null},"y":{"datum":0,"type":"quantitative"},"y2":{"datum":0.95},"fill":{"condition":{"test":"datum.active","value":"#ffffff"},"value":"#f2f2f2"}}},
{"data":{"name":"tabs"},"mark":{"type":"text","align":"center","baseline":"top","fontSize":5,"color":"#222222","clip":true},"encoding":{"x":{"field":"idx","type":"quantitative"},"y":{"datum":0.6,"type":"quantitative"},"text":{"field":"name"}}}
]}
]
}
